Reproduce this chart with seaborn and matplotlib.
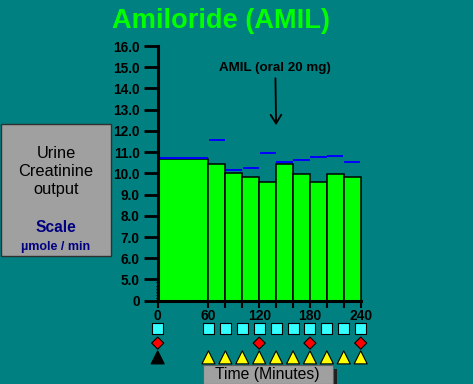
import numpy as np
import pandas as pd
import seaborn as sns
import matplotlib.pyplot as plt
from matplotlib.patches import Rectangle

# Collection periods (minutes) and measured creatinine output (umole/min)
bin_start = [0, 60, 80, 100, 120, 140, 160, 180, 200, 220]
bin_width = [60, 20, 20, 20, 20, 20, 20, 20, 20, 20]
creatinine = [10.66, 10.42, 10.04, 9.85, 9.57, 10.42, 9.95, 9.57, 9.95, 9.81]
reference = [10.71, 11.58, 10.15, 10.26, 10.97, 10.54, 10.64, 10.75, 10.80, 10.54]

x_ticks = [0, 60, 80, 100, 120, 140, 160, 180, 200, 220, 240]
y_ticks = [0, 5, 6, 7, 8, 9, 10, 11, 12, 13, 14, 15, 16]

# event rows under the time axis
urine_times = [0, 60, 80, 100, 120, 140, 160, 180, 200, 220, 240]
blood_times = [0, 120, 180, 240]
dose_times = [0]
water_times = [60, 80, 100, 120, 140, 160, 180, 200, 220, 240]

drug_time = 140
drug_label = 'AMIL (oral 20 mg)'

BG = '#008080'
plt.rcParams['font.family'] = ['Liberation Sans', 'DejaVu Sans']


# axis is broken below 5: 0..5 squeezed into one unit
def fwd(v):
    v = np.asarray(v, dtype=float)
    return np.where(v < 5, 4 + v / 5, v)


def inv(u):
    u = np.asarray(u, dtype=float)
    return np.where(u < 5, (u - 4) * 5, u)


fig = plt.figure(figsize=(4.73, 3.84), dpi=100, facecolor=BG)
W, H = 473, 384

ax = fig.add_axes([157.7 / W, (H - 300.7) / H, 203 / W, 254.7 / H])
ax.set_facecolor('none')
ax.set_yscale('function', functions=(fwd, inv))
ax.set_xlim(0, 240)
ax.set_ylim(0, 16)

ax.bar(bin_start, creatinine, width=bin_width, align='edge',
       color='#00FF00', edgecolor='black', linewidth=1.1, clip_on=False, zorder=2)
ends = [s + w for s, w in zip(bin_start, bin_width)]
ax.hlines(reference, [s + 0.4 for s in bin_start], [e - 0.4 for e in ends],
          colors='#0000FF', linewidth=1.4, zorder=3)

for side in ['top', 'right']:
    ax.spines[side].set_visible(False)
for side in ['left', 'bottom']:
    ax.spines[side].set_linewidth(2.2)
    ax.spines[side].set_color('black')
    ax.spines[side].set_zorder(4)

ax.set_yticks(y_ticks)
ax.set_yticklabels(['0' if t == 0 else f'{t:.1f}' for t in y_ticks],
                   fontsize=9.8, fontweight='bold')
ax.set_yticks(np.linspace(0.7, 4.3, 6), minor=True)
ax.tick_params(axis='y', which='major', direction='out', length=10, width=2,
               pad=3, color='black')
ax.tick_params(axis='y', which='minor', direction='inout', length=3.5,
               width=0.9, color='black')

ax.set_xticks(x_ticks)
ax.set_xticklabels([str(t) if t % 60 == 0 else '' for t in x_ticks],
                   fontsize=10, fontweight='bold')
ax.tick_params(axis='x', direction='out', length=5, width=1.5, pad=1,
               color='black')

ax.annotate(drug_label, xy=(drug_time, 12.27), xytext=(drug_time - 1, 14.96),
            ha='center', va='center', fontsize=9.6, fontweight='bold',
            arrowprops=dict(arrowstyle='->,head_length=0.65,head_width=0.4',
                            color='black', lw=1.3, shrinkA=1, shrinkB=0))

# marker rows below the axis
rows = []
rows += [(t, 0, 'urine') for t in urine_times]
rows += [(t, 1, 'blood') for t in blood_times]
rows += [(t, 2, 'dose') for t in dose_times]
rows += [(t, 2, 'water') for t in water_times]
events = pd.DataFrame(rows, columns=['time', 'row', 'kind'])

mk = fig.add_axes([157.7 / W, (H - 364.5) / H, 203 / W, 42.75 / H])
sns.scatterplot(data=events, x='time', y='row', hue='kind', style='kind', size='kind',
                palette={'urine': '#33FFFF', 'blood': '#FF0000',
                         'dose': '#000000', 'water': '#FFFF00'},
                markers={'urine': 's', 'blood': 'D', 'dose': '^', 'water': '^'},
                sizes={'urine': 62, 'blood': 38, 'dose': 88, 'water': 88},
                edgecolor='black', linewidth=0.8, legend=False, ax=mk,
                clip_on=False)
mk.set_xlim(0, 240)
mk.set_ylim(2.5, -0.5)
mk.axis('off')

# title
fig.text(221 / W, 1 - 28.3 / H, 'Amiloride (AMIL)', color='#00FF00',
         fontsize=19.6, fontweight='bold', ha='center', va='baseline')

# left label box
fig.add_artist(Rectangle((1 / W, 1 - 256 / H), 110 / W, 132 / H,
                         transform=fig.transFigure, facecolor='#A0A0A0',
                         edgecolor='#303030', linewidth=1))
fig.text(56 / W, 1 - 157.7 / H, 'Urine', fontsize=11.8, ha='center', va='baseline')
fig.text(56 / W, 1 - 176 / H, 'Creatinine', fontsize=11.8, ha='center', va='baseline')
fig.text(56 / W, 1 - 194 / H, 'output', fontsize=11.8, ha='center', va='baseline')
fig.text(56 / W, 1 - 232.3 / H, 'Scale', fontsize=11.2, fontweight='bold',
         color='#000080', ha='center', va='baseline')
fig.text(56 / W, 1 - 250 / H, 'µmole / min', fontsize=9, fontweight='bold',
         color='#000080', ha='center', va='baseline')

# time label box with shadow
fig.add_artist(Rectangle((206.5 / W, 0), 130 / W, (H - 369) / H,
                         transform=fig.transFigure, facecolor='#202020',
                         edgecolor='none'))
fig.add_artist(Rectangle((202.7 / W, 0), 130 / W, (H - 365) / H,
                         transform=fig.transFigure, facecolor='#A0A0A0',
                         edgecolor='#606060', linewidth=0.8))
fig.text(267.7 / W, 1 - 379 / H, 'Time (Minutes)', fontsize=11.3,
         ha='center', va='baseline')

fig.savefig('out.png', dpi=100, facecolor=fig.get_facecolor())
